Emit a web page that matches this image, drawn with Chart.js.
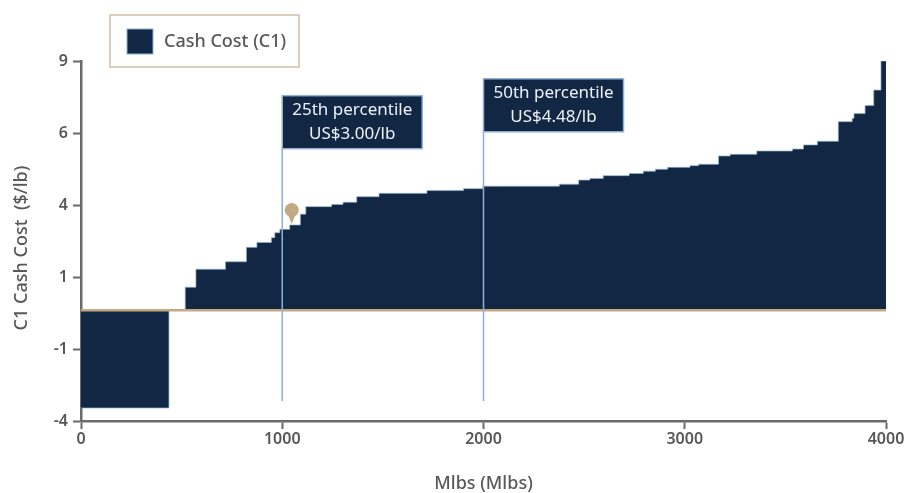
<!DOCTYPE html>
<html>
<head>
<meta charset="utf-8">
<style>
  html, body { margin: 0; padding: 0; background: #fff; }
</style>
<script src="https://cdn.jsdelivr.net/npm/chart.js@4/dist/chart.umd.min.js"></script>
</head>
<body>
<canvas id="costChart" width="907" height="493"></canvas>
<script>
// start of each block on the cost curve (Mlbs) and its C1 cost ($/lb)
const stepStart = [0, 437, 518, 571, 718, 822, 874, 946, 963, 988, 1037, 1090, 1117, 1245, 1302, 1370, 1481, 1719, 1901, 1997, 2377, 2473, 2529, 2595, 2724, 2794, 2854, 2915, 3026, 3069, 3168, 3226, 3358, 3535, 3590, 3659, 3763, 3832, 3841, 3896, 3939, 3975, 4000];
const cashCost = [-3.53, 0, 0.83, 1.48, 1.75, 2.27, 2.45, 2.62, 2.80, 2.92, 3.08, 3.47, 3.74, 3.82, 3.90, 4.10, 4.22, 4.32, 4.39, 4.48, 4.55, 4.70, 4.76, 4.86, 4.94, 5.02, 5.09, 5.16, 5.22, 5.27, 5.57, 5.63, 5.75, 5.82, 5.97, 6.10, 6.81, 6.93, 7.10, 7.39, 7.95, 9.0, 9.0];

const xTicks = [0, 1000, 2000, 3000, 4000];
const yTicks = [-4, -1.4, 1.2, 3.8, 6.4, 9];
const yTickLabels = ['-4', '-1', '1', '4', '6', '9'];

const percentiles = [
    { x: 1000, top: 5.87, bottom: -3.28, lines: ['25th percentile', 'US$3.00/lb'] },
    { x: 2000, top: 6.48, bottom: -3.28, lines: ['50th percentile', 'US$4.48/lb'] }
];
const pinX = 1047;
const pinY = 3.11;

const NAVY = '#122744';
const EDGE = '#8fb0d6';
const TAN = '#c2a982';
const GREY = '#585858';
const AXIS = '#6a6a6a';
const FONT = '"Noto Sans", Roboto, sans-serif';

const annotations = {
    id: 'annotations',
    afterDatasetsDraw(chart) {
        const { ctx, scales: { x, y } } = chart;
        ctx.save();

        // percentile boxes
        percentiles.forEach(p => {
            const left = x.getPixelForValue(p.x);
            const top = y.getPixelForValue(p.top) - 52;
            ctx.fillStyle = NAVY;
            ctx.strokeStyle = EDGE;
            ctx.lineWidth = 1.5;
            ctx.fillRect(left, top, 140, 53);
            ctx.strokeRect(left, top, 140, 53);
            ctx.fillStyle = '#eef2f7';
            ctx.font = '17px ' + FONT;
            ctx.textAlign = 'center';
            ctx.textBaseline = 'middle';
            ctx.fillText(p.lines[0], left + 70, top + 14);
            ctx.fillText(p.lines[1], left + 70, top + 38);
        });

        // marker pin
        const px = x.getPixelForValue(pinX);
        const py = y.getPixelForValue(pinY);
        ctx.fillStyle = TAN;
        ctx.beginPath();
        ctx.arc(px, py - 14, 7, 0, Math.PI * 2);
        ctx.fill();
        ctx.beginPath();
        ctx.moveTo(px - 4, py - 10);
        ctx.lineTo(px + 4, py - 10);
        ctx.lineTo(px, py);
        ctx.closePath();
        ctx.fill();

        // legend
        ctx.strokeStyle = '#cfbfa5';
        ctx.lineWidth = 1.5;
        ctx.strokeRect(110, 15, 189, 52);
        ctx.fillStyle = NAVY;
        ctx.fillRect(127, 29, 26, 25);
        ctx.strokeStyle = EDGE;
        ctx.lineWidth = 1;
        ctx.strokeRect(127, 29, 26, 25);
        ctx.fillStyle = GREY;
        ctx.font = '500 18px ' + FONT;
        ctx.textAlign = 'left';
        ctx.textBaseline = 'middle';
        ctx.fillText('Cash Cost (C1)', 164, 42);

        // y axis title sits a little below the middle of the axis
        ctx.translate(22, 248);
        ctx.rotate(-Math.PI / 2);
        ctx.textAlign = 'center';
        ctx.fillText('C1 Cash Cost  ($/lb)', 0, 0);

        ctx.restore();
    }
};

new Chart(document.getElementById('costChart'), {
    type: 'scatter',
    data: {
        datasets: [
            ...percentiles.map(p => ({
                data: [{ x: p.x, y: p.bottom }, { x: p.x, y: p.top }],
                showLine: true,
                borderColor: EDGE,
                borderWidth: 1.5,
                pointRadius: 0
            })),
            {
                data: [{ x: 0, y: 0 }, { x: 4000, y: 0 }],
                showLine: true,
                borderColor: TAN,
                borderWidth: 2.5,
                pointRadius: 0
            },
            {
                label: 'Cash Cost (C1)',
                data: stepStart.map((x, i) => ({ x: x, y: cashCost[i] })),
                showLine: true,
                stepped: 'before',
                fill: 'origin',
                backgroundColor: NAVY,
                borderColor: 'rgba(143, 176, 214, 0.7)',
                borderWidth: 1,
                pointRadius: 0
            }
        ]
    },
    options: {
        responsive: false,
        animation: false,
        layout: { padding: { top: 61, right: 21, bottom: 0, left: 0 } },
        plugins: { legend: { display: false }, tooltip: { enabled: false } },
        scales: {
            x: {
                type: 'linear',
                min: 0,
                max: 4000,
                afterBuildTicks(scale) { scale.ticks = xTicks.map(v => ({ value: v })); },
                afterFit(scale) { scale.height = 72; },
                grid: { drawOnChartArea: false, tickLength: 8, tickColor: AXIS, tickWidth: 2 },
                border: { color: AXIS, width: 2.5 },
                ticks: {
                    color: GREY,
                    font: { family: FONT, size: 16, weight: '600' },
                    maxRotation: 0,
                    padding: 1,
                    callback: value => String(value)
                },
                title: { display: true, text: 'Mlbs (Mlbs)', color: GREY, font: { family: FONT, size: 18, weight: '500' }, padding: { top: 0, bottom: -2 } }
            },
            y: {
                min: -4,
                max: 9,
                afterBuildTicks(scale) { scale.ticks = yTicks.map(v => ({ value: v })); },
                afterFit(scale) { scale.width = 81; },
                grid: { drawOnChartArea: false, tickLength: 8, tickColor: AXIS, tickWidth: 2 },
                border: { color: AXIS, width: 2.5 },
                ticks: {
                    color: GREY,
                    font: { family: FONT, size: 16, weight: '600' },
                    padding: 5,
                    callback: (value, index) => yTickLabels[index]
                }
            }
        }
    },
    plugins: [annotations]
});
</script>
</body>
</html>
